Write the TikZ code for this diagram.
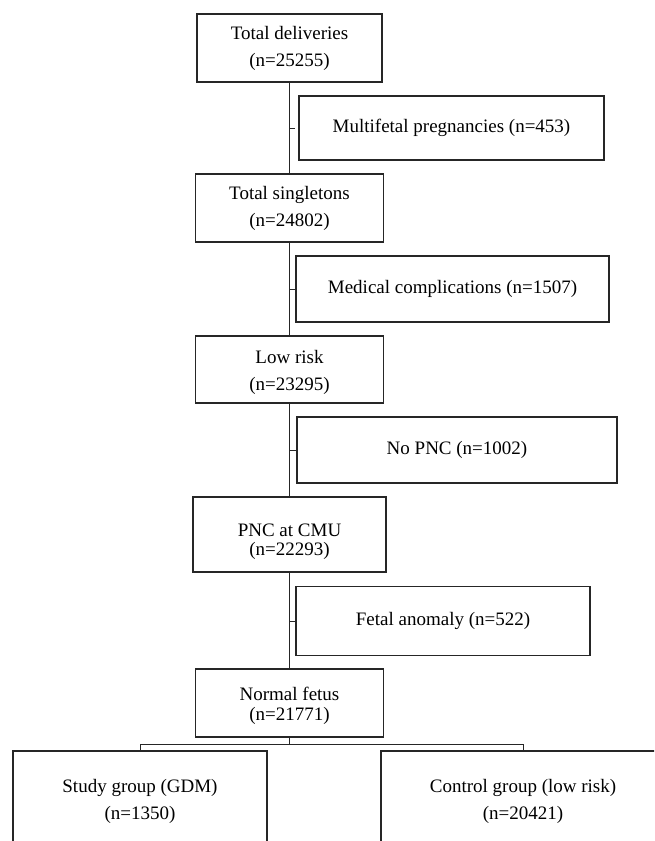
\documentclass[tikz,border=0pt]{standalone}
\usepackage{fontspec}
\setmainfont{Liberation Serif}
\begin{document}
\begin{tikzpicture}[x=1pt,y=-1pt,
  frame/.style={draw=black!85, line width=1.2pt, rectangle, inner sep=0pt},
  txt/.style={inner sep=0pt, align=center, font=\fontsize{19}{27}\selectfont},
  sidebox/.style={draw=black!85, line width=1.2pt, rectangle, inner sep=0pt, font=\fontsize{19}{23}\selectfont},
  groupbox/.style={draw=black!85, line width=1.5pt, rectangle, inner sep=0pt},
  link/.style={draw=black!85, line width=0.9pt}]
\useasboundingbox (0,0) rectangle (654,841);
\clip (0,0) rectangle (654,841);

% main boxes
\node[frame, minimum width=185pt, minimum height=68pt] (td) at (289.5,48) {};
\node[txt] (tdt) at (289.5,48) {Total deliveries\\(n=25255)};
\node[frame, minimum width=188pt, minimum height=68pt] (ts) at (289.5,208) {};
\node[txt] (tst) at (289.5,208) {Total singletons\\(n=24802)};
\node[frame, minimum width=188pt, minimum height=67pt] (lr) at (289.5,369.5) {};
\node[txt] (lrt) at (289.5,372.5) {Low risk\\(n=23295)};
\node[frame, minimum width=193pt, minimum height=75pt] (pnc) at (289.5,534.5) {};
\node[txt, font=\fontsize{19}{19}\selectfont] (pnct) at (289.5,542) {PNC at CMU\\(n=22293)};
\node[frame, minimum width=188pt, minimum height=68pt] (nf) at (289.5,703) {};
\node[txt, font=\fontsize{19}{20}\selectfont] (nft) at (289.5,705.5) {Normal fetus\\(n=21771)};

% side boxes
\node[sidebox, minimum width=305pt, minimum height=64pt] (mf) at (451.5,128) {Multifetal pregnancies (n=453)};
\node[sidebox, minimum width=313pt, minimum height=66pt] (mc) at (452.5,289) {Medical complications (n=1507)};
\node[sidebox, minimum width=320pt, minimum height=66pt] (np) at (457,450) {No PNC (n=1002)};
\node[sidebox, minimum width=294pt, minimum height=69pt] (fa) at (443,621) {Fetal anomaly (n=522)};

% group boxes (cut off by the page edge)
\node[groupbox, minimum width=254pt, minimum height=100pt] (sg) at (140,801) {};
\node[txt] (sgt) at (140,801) {Study group (GDM)\\(n=1350)};
\node[groupbox, minimum width=284pt, minimum height=100pt] (cg) at (523,801) {};
\node[txt] (cgt) at (523,801) {Control group (low risk)\\(n=20421)};

% spine
\draw[link] (td.south) -- (ts.north);
\draw[link] (ts.south) -- (lr.north);
\draw[link] (lr.south) -- (pnc.north);
\draw[link] (pnc.south) -- (nf.north);

% ticks
\coordinate (k1) at (td.south |- mf.west);
\coordinate (k2) at (td.south |- mc.west);
\coordinate (k3) at (td.south |- np.west);
\coordinate (k4) at (td.south |- fa.west);
\draw[link] (k1) -- ++(5.5,0);
\draw[link] (k2) -- ++(6.5,0);
\draw[link] (k3) -- ++(6.5,0);
\draw[link] (k4) -- ++(6.5,0);

% branch
\coordinate (br) at (289.5,744);
\draw[link] (nf.south) -- (br);
\draw[link] (sg.north) -- (sg.north |- br) -- (cg.north |- br) -- (cg.north);
\end{tikzpicture}
\end{document}
